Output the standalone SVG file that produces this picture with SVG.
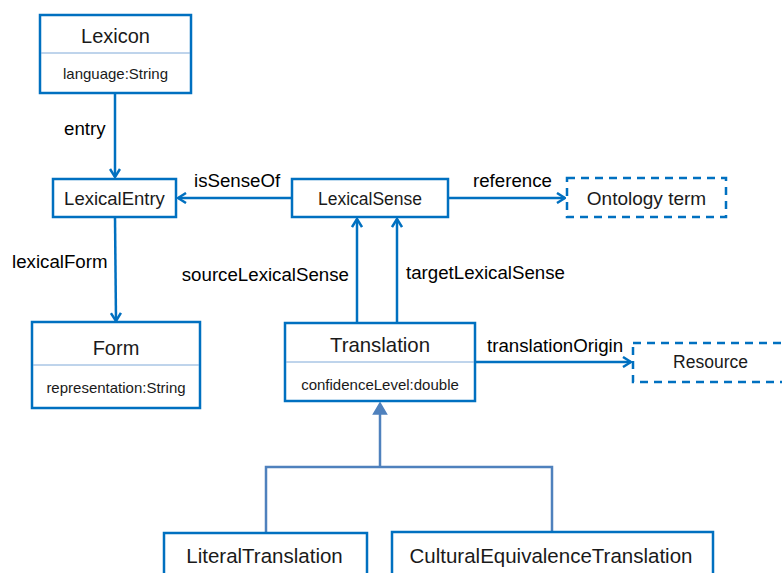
<svg xmlns="http://www.w3.org/2000/svg" width="782" height="573" viewBox="0 0 782 573">
  <style>
    .box { fill: #ffffff; stroke: #0070c0; stroke-width: 2.5; }
    .ext { fill: #ffffff; stroke: #0070c0; stroke-width: 2.5; stroke-dasharray: 8 6; }
    .div { stroke: #7fa9d8; stroke-width: 1; }
    .assoc { fill: none; stroke: #0070c0; stroke-width: 2.5; }
    .gen { fill: none; stroke: #4f81bd; stroke-width: 2.5; }
    .title { font-family: "Liberation Sans", Arial, sans-serif; fill: #1a1a1a; text-anchor: middle; }
    .attr { font-family: "Liberation Sans", Arial, sans-serif; font-size: 15px; fill: #1a1a1a; text-anchor: middle; }
    .lbl { font-family: "Liberation Sans", Arial, sans-serif; font-size: 18.7px; fill: #000000; }
  </style>
  <defs>
    <marker id="open" viewBox="0 0 10 12" refX="9" refY="6" markerWidth="10" markerHeight="12" markerUnits="userSpaceOnUse" orient="auto">
      <path d="M1,1 L9,6 L1,11" fill="none" stroke="#0070c0" stroke-width="2.5"/>
    </marker>
  </defs>

  <!-- connectors -->
  <g id="connectors">
    <line class="assoc" x1="115" y1="94" x2="115" y2="177" marker-end="url(#open)"/>
    <line class="assoc" x1="115" y1="217" x2="116" y2="321" marker-end="url(#open)"/>
    <line class="assoc" x1="292" y1="198" x2="178" y2="198" marker-end="url(#open)"/>
    <line class="assoc" x1="448" y1="198" x2="565" y2="198" marker-end="url(#open)"/>
    <line class="assoc" x1="357" y1="323" x2="357" y2="219" marker-end="url(#open)"/>
    <line class="assoc" x1="397" y1="323" x2="397" y2="219" marker-end="url(#open)"/>
    <line class="assoc" x1="475" y1="362" x2="631" y2="362" marker-end="url(#open)"/>
    <!-- generalization tree -->
    <polyline class="gen" points="266,533 266,467 552,467 552,532"/>
    <line class="gen" x1="380" y1="467" x2="380" y2="413"/>
    <polygon points="380,403 386.5,414 373.5,414" fill="#4f81bd" stroke="#4f81bd" stroke-width="1.5"/>

    <text class="lbl" x="64" y="135">entry</text>
    <text class="lbl" x="12" y="268">lexicalForm</text>
    <text class="lbl" x="194" y="187">isSenseOf</text>
    <text class="lbl" x="473" y="187">reference</text>
    <text class="lbl" x="349" y="281" text-anchor="end">sourceLexicalSense</text>
    <text class="lbl" x="406" y="279">targetLexicalSense</text>
    <text class="lbl" x="487" y="352">translationOrigin</text>
  </g>

  <g id="lexicon">
    <rect class="box" x="40" y="15" width="151" height="78"/>
    <line class="div" x1="41" y1="53" x2="190" y2="53"/>
    <text class="title" x="115.5" y="43" font-size="20">Lexicon</text>
    <text class="attr" x="115.5" y="79">language:String</text>
  </g>

  <g id="lexical-entry">
    <rect class="box" x="53" y="179" width="123" height="38"/>
    <text class="title" x="114.5" y="205" font-size="18.5">LexicalEntry</text>
  </g>

  <g id="lexical-sense">
    <rect class="box" x="292" y="179" width="156" height="38"/>
    <text class="title" x="370" y="205" font-size="17.5">LexicalSense</text>
  </g>

  <g id="ontology-term">
    <rect class="ext" x="567" y="178" width="159" height="39"/>
    <text class="title" x="646.5" y="205" font-size="19">Ontology term</text>
  </g>

  <g id="form">
    <rect class="box" x="32" y="322" width="168" height="86"/>
    <line class="div" x1="33" y1="365" x2="199" y2="365"/>
    <text class="title" x="116" y="355" font-size="20">Form</text>
    <text class="attr" x="116" y="393">representation:String</text>
  </g>

  <g id="translation">
    <rect class="box" x="285" y="323" width="190" height="78"/>
    <line class="div" x1="286" y1="362" x2="474" y2="362"/>
    <text class="title" x="380" y="352" font-size="20.4">Translation</text>
    <text class="attr" x="380" y="390">confidenceLevel:double</text>
  </g>

  <g id="resource">
    <rect class="ext" x="633" y="343" width="170" height="39"/>
    <text class="title" x="710.5" y="368" font-size="17.5">Resource</text>
  </g>

  <g id="literal-translation">
    <rect class="box" x="164" y="533" width="203" height="60"/>
    <text class="title" x="264.5" y="563" font-size="20.5">LiteralTranslation</text>
  </g>

  <g id="cultural-equivalence-translation">
    <rect class="box" x="392" y="532" width="321" height="60"/>
    <text class="title" x="551" y="563" font-size="20.5">CulturalEquivalenceTranslation</text>
  </g>
</svg>
